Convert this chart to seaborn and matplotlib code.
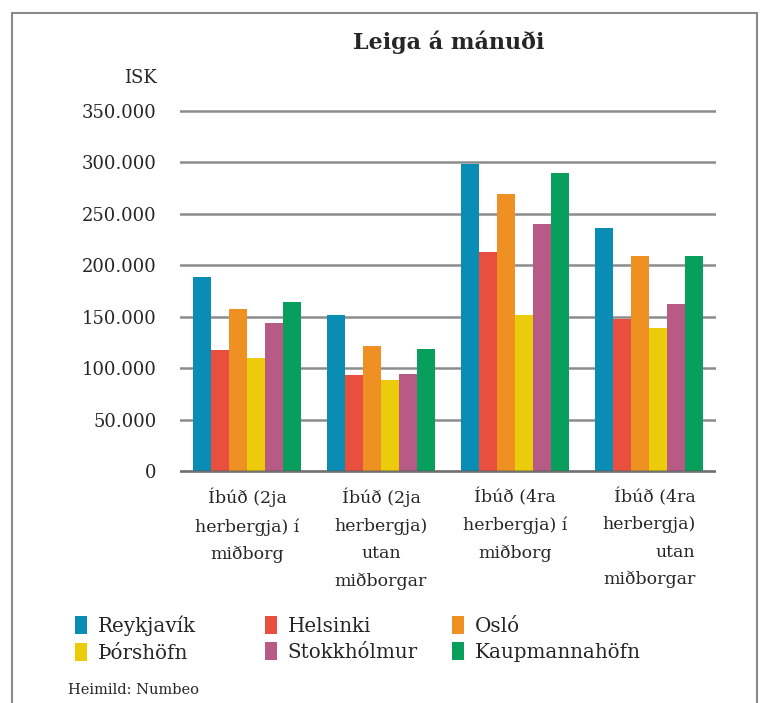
import pandas as pd
import seaborn as sns
import matplotlib.pyplot as plt
from matplotlib.patches import Rectangle

# Gögn lesin af myndinni (ISK á mánuði)
categories = ['Íbúð (2ja\nherbergja) í\nmiðborg',
              'Íbúð (2ja\nherbergja)\nutan\nmiðborgar',
              'Íbúð (4ra\nherbergja) í\nmiðborg',
              'Íbúð (4ra\nherbergja)\nutan\nmiðborgar']
cities = ['Reykjavík', 'Helsinki', 'Osló', 'Þórshöfn', 'Stokkhólmur', 'Kaupmannahöfn']
reykjavik = [188500, 151500, 298000, 236300]
helsinki = [117300, 93300, 212600, 147900]
oslo = [157600, 121600, 269400, 209300]
thorshofn = [109900, 88700, 152100, 139100]
stokkholmur = [143700, 93900, 239900, 162200]
kaupmannahofn = [164100, 119000, 289300, 209000]
colors = ['#0a8db5', '#e94f3f', '#ef9022', '#ebcb0a', '#b75a85', '#079f5b']
yticks = [0, 50000, 100000, 150000, 200000, 250000, 300000, 350000]
ytick_labels = ['0', '50.000', '100.000', '150.000', '200.000', '250.000', '300.000', '350.000']

series = [reykjavik, helsinki, oslo, thorshofn, stokkholmur, kaupmannahofn]
rows = []
for city, vals in zip(cities, series):
    for cat, v in zip(categories, vals):
        rows.append({'flokkur': cat, 'borg': city, 'leiga': v})
df = pd.DataFrame(rows)

sns.set_style('white')
plt.rcParams['font.family'] = ['DejaVu Serif']
text_color = '#262626'

W, H = 776, 703
fig = plt.figure(figsize=(W / 100, H / 100), dpi=100)
ax = fig.add_axes([180 / W, 1 - 472.5 / H, (716 - 180) / W, (472.5 - 106) / H])

sns.barplot(data=df, x='flokkur', y='leiga', hue='borg', palette=colors,
            saturation=1, width=0.8, linewidth=0, ax=ax, zorder=3)

handles, labels = ax.get_legend_handles_labels()
ax.get_legend().remove()

px = 360 / 350000
ax.set_ylim(-1.5 / px, 365 / px)
ax.set_xlim(-0.5, 3.5)
ax.set_yticks(yticks)
ax.set_yticklabels(ytick_labels)
ax.yaxis.grid(True, color='#8c8c8c', linewidth=1.8, zorder=0)
ax.xaxis.grid(False)
ax.axhline(0, color='#555555', linewidth=1.8, alpha=0.5, zorder=4)
for s in ax.spines.values():
    s.set_visible(False)
ax.set_xlabel('')
ax.set_ylabel('')
ax.tick_params(axis='y', length=0, pad=17, labelsize=13, labelcolor=text_color)
ax.tick_params(axis='x', length=0, pad=11, labelsize=12.5, labelcolor=text_color)
for i, lab in enumerate(ax.get_xticklabels()):
    lab.set_linespacing(1.8)
    lab.set_multialignment('right' if i == 3 else 'center')

# rammi
fig.patches.append(Rectangle((12 / W, -0.1), (757 - 12) / W, 1.1 - 13 / H,
                             transform=fig.transFigure, fill=False,
                             edgecolor='#8a8a8a', linewidth=1.5))

fig.text(449 / W, 1 - 42 / H, 'Leiga á mánuði', ha='center', va='center',
         fontsize=16, fontweight='bold', color=text_color)
fig.text(157 / W, 1 - 78 / H, 'ISK', ha='right', va='center',
         fontsize=13, color=text_color)

col_x = [75, 265, 452]
for c in range(3):
    leg = fig.legend(handles=[handles[c], handles[c + 3]], labels=[labels[c], labels[c + 3]],
                     loc='center left', bbox_to_anchor=(col_x[c] / W, 1 - 639 / H),
                     frameon=False, fontsize=14.3, handlelength=0.6, handleheight=1.0,
                     handletextpad=0.55, labelspacing=0.35, borderpad=0, borderaxespad=0)
    for t in leg.get_texts():
        t.set_color(text_color)

fig.text(68 / W, 1 - 690 / H, 'Heimild: Numbeo', ha='left', va='center',
         fontsize=10.5, color=text_color)

fig.savefig('out.png', dpi=100)
